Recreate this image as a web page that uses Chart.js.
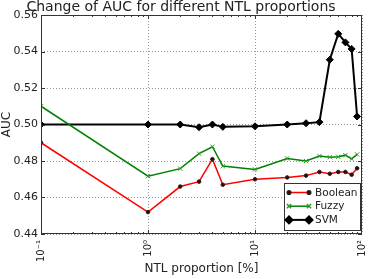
<!DOCTYPE html>
<html>
<head>
<meta charset="utf-8">
<script src="https://cdn.jsdelivr.net/npm/chart.js@4/dist/chart.umd.min.js"></script>
<style>
  html, body { margin: 0; padding: 0; background: #fff; }
  #wrap { width: 370px; height: 279px; }
</style>
</head>
<body>
<div id="wrap"><canvas id="auc-chart" width="370" height="279"></canvas></div>
<script>
const proportions = [0.1, 1, 2, 3, 4, 5, 10, 20, 30, 40, 50, 60, 70, 80, 90];
const booleanAuc = [0.490, 0.452, 0.466, 0.4687, 0.481, 0.467, 0.470, 0.471, 0.472, 0.474, 0.473, 0.474, 0.474, 0.4725, 0.476];
const fuzzyAuc = [0.510, 0.4717, 0.4758, 0.484, 0.4878, 0.4772, 0.4754, 0.4814, 0.480, 0.4827, 0.4821, 0.4823, 0.4832, 0.4812, 0.4836];
const svmAuc = [0.500, 0.500, 0.500, 0.4985, 0.500, 0.4987, 0.499, 0.500, 0.5007, 0.5013, 0.5355, 0.5497, 0.545, 0.5414, 0.5044];
const xTicks = [0.1, 1, 10, 100];
const xTickLabels = ["10\u207B\u00B9", "10\u2070", "10\u00B9", "10\u00B2"];
const yTicks = [0.44, 0.46, 0.48, 0.50, 0.52, 0.54, 0.56];

const FONT = "'DejaVu Sans', sans-serif";
Chart.defaults.font.family = FONT;
Chart.defaults.color = "#222";

function pts(values) {
    return proportions.map((p, i) => ({ x: p, y: values[i] }));
}

// frame, inward ticks, vertical x labels and legend box drawn like the original figure
const framePlugin = {
    id: "frame",
    afterDraw(chart) {
        const ctx = chart.ctx;
        const a = chart.chartArea;
        const xs = chart.scales.x;
        const ys = chart.scales.y;
        ctx.save();
        ctx.strokeStyle = "#333";
        ctx.lineWidth = 1;
        ctx.setLineDash([]);
        ctx.strokeRect(a.left + 0.5, a.top + 0.5, a.right - a.left - 1, a.bottom - a.top - 1);

        ctx.beginPath();
        for (let d = 0.1; d < 100; d *= 10) {
            for (let k = 1; k <= 9; k++) {
                const v = d * k;
                const px = Math.round(xs.getPixelForValue(v)) + 0.5;
                const len = k === 1 ? 4 : 2;
                ctx.moveTo(px, a.bottom);
                ctx.lineTo(px, a.bottom - len);
                ctx.moveTo(px, a.top);
                ctx.lineTo(px, a.top + len);
            }
        }
        yTicks.forEach(v => {
            const py = Math.round(ys.getPixelForValue(v)) + 0.5;
            ctx.moveTo(a.left, py);
            ctx.lineTo(a.left + 4, py);
            ctx.moveTo(a.right, py);
            ctx.lineTo(a.right - 4, py);
        });
        ctx.stroke();

        // x tick labels, read bottom to top
        ctx.fillStyle = "#222";
        ctx.font = "10px " + FONT;
        ctx.textAlign = "right";
        ctx.textBaseline = "middle";
        xTicks.forEach((v, i) => {
            ctx.save();
            ctx.translate(xs.getPixelForValue(v), a.bottom + 6);
            ctx.rotate(-Math.PI / 2);
            ctx.fillText(xTickLabels[i], 0, 0);
            ctx.restore();
        });

        // legend
        const w = 76, h = 47;
        const bx = a.right - 2 - w, by = a.bottom - 4 - h;
        ctx.fillStyle = "#fff";
        ctx.fillRect(bx, by, w, h);
        ctx.strokeStyle = "#333";
        ctx.lineWidth = 1;
        ctx.strokeRect(bx + 0.5, by + 0.5, w, h);
        ctx.font = "10.5px " + FONT;
        ctx.textBaseline = "middle";
        ctx.textAlign = "left";
        chart.data.datasets.forEach((ds, i) => {
            const cy = by + 9.5 + i * 13.7;
            const x0 = bx + 5, x1 = bx + 25;
            ctx.strokeStyle = ds.borderColor;
            ctx.lineWidth = ds.borderWidth;
            ctx.beginPath();
            ctx.moveTo(x0, cy);
            ctx.lineTo(x1, cy);
            ctx.stroke();
            [x0, x1].forEach(px => {
                ctx.fillStyle = ds.pointBackgroundColor;
                ctx.strokeStyle = ds.pointBorderColor;
                Chart.helpers.drawPoint(ctx, {
                    pointStyle: ds.pointStyle,
                    radius: ds.pointRadius,
                    rotation: 0,
                    borderWidth: ds.pointBorderWidth
                }, px, cy);
            });
            ctx.fillStyle = "#222";
            ctx.fillText(ds.label, bx + 31, cy + 0.5);
        });
        ctx.restore();
    }
};

const ctx = document.getElementById("auc-chart").getContext("2d");
new Chart(ctx, {
    type: "line",
    data: {
        datasets: [
            {
                label: "Boolean",
                data: pts(booleanAuc),
                borderColor: "#ff0000",
                borderWidth: 1.5,
                pointStyle: "circle",
                pointRadius: 1.8,
                pointBackgroundColor: "#400",
                pointBorderColor: "#222",
                pointBorderWidth: 1,
                tension: 0
            },
            {
                label: "Fuzzy",
                data: pts(fuzzyAuc),
                borderColor: "#008000",
                borderWidth: 1.5,
                pointStyle: "crossRot",
                pointRadius: 3,
                pointBackgroundColor: "#008000",
                pointBorderColor: "#2a9a2a",
                pointBorderWidth: 1,
                tension: 0
            },
            {
                label: "SVM",
                data: pts(svmAuc),
                borderColor: "#000000",
                borderWidth: 2,
                pointStyle: "rectRot",
                pointRadius: 3.5,
                pointBackgroundColor: "#000",
                pointBorderColor: "#000",
                pointBorderWidth: 1,
                tension: 0
            }
        ]
    },
    options: {
        responsive: false,
        animation: false,
        layout: { padding: { left: 0, right: 8, top: 0, bottom: 0 } },
        plugins: {
            legend: { display: false },
            tooltip: { enabled: false },
            title: {
                display: true,
                text: "Change of AUC for different NTL proportions",
                font: { size: 14, weight: "normal", lineHeight: 1 },
                color: "#222",
                padding: { top: 0, bottom: 1 }
            }
        },
        scales: {
            x: {
                type: "logarithmic",
                min: 0.1,
                max: 100,
                afterBuildTicks: scale => {
                    scale.ticks = xTicks.map(v => ({ value: v }));
                },
                afterFit: scale => { scale.height = 45; },
                ticks: { display: false },
                grid: { color: "#999", lineWidth: 1, drawTicks: false },
                border: { display: false, dash: [1, 2] },
                title: {
                    display: true,
                    text: "NTL proportion [%]",
                    font: { size: 12 },
                    color: "#222",
                    padding: { top: 0, bottom: 3 }
                }
            },
            y: {
                min: 0.44,
                max: 0.56,
                afterBuildTicks: scale => {
                    scale.ticks = yTicks.map(v => ({ value: v }));
                },
                afterFit: scale => { scale.width = 41; },
                ticks: {
                    padding: 3,
                    font: { size: 11 },
                    color: "#222",
                    callback: v => Number(v).toFixed(2)
                },
                grid: { color: "#999", lineWidth: 1, drawTicks: false },
                border: { display: false, dash: [1, 2] },
                title: {
                    display: true,
                    text: "AUC",
                    font: { size: 12 },
                    color: "#222",
                    padding: { top: 0, bottom: 0 }
                }
            }
        }
    },
    plugins: [framePlugin]
});
</script>
</body>
</html>
